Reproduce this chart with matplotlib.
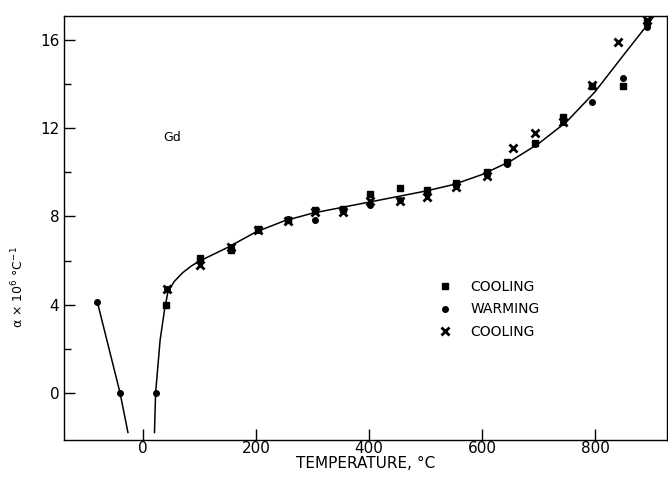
import numpy as np
import matplotlib.pyplot as plt

# thermal expansion of Gd
# left (low temperature) branch
low_t = [-81, -41, -27]
low_a = [4.1, 0.0, -1.8]

# smooth curve drawn through the data
curve_t = [20, 22, 30, 38, 44, 55, 70, 85, 100, 150, 200, 250, 300, 350, 400, 450,
           500, 550, 600, 650, 700, 750, 800, 850, 890, 905]
curve_a = [-1.8, 0.0, 2.4, 3.8, 4.6, 5.05, 5.45, 5.75, 5.98, 6.6, 7.3, 7.8, 8.15, 8.4,
           8.65, 8.9, 9.15, 9.45, 9.9, 10.5, 11.3, 12.3, 13.65, 15.3, 16.6, 17.1]

cool1_t = [41, 101, 156, 204, 257, 304, 354, 402, 455, 503, 554, 609, 644, 694, 743, 795, 850, 892]
cool1_a = [4.0, 6.1, 6.5, 7.45, 7.85, 8.3, 8.35, 9.0, 9.3, 9.2, 9.5, 10.0, 10.45, 11.35, 12.5, 13.9, 13.9, 16.8]

warm_t = [22, -41, -81, 42, 101, 156, 204, 257, 304, 354, 402, 455, 503, 554, 609, 644, 694, 743, 795, 850, 892]
warm_a = [0.0, 0.0, 4.1, 4.7, 6.0, 6.6, 7.4, 7.9, 7.85, 8.25, 8.5, 8.75, 9.05, 9.4, 9.9, 10.4, 11.3, 12.3, 13.2, 14.3, 16.6]

cool2_t = [42, 101, 156, 204, 257, 304, 354, 402, 455, 503, 554, 609, 655, 694, 743, 795, 841, 892]
cool2_a = [4.7, 5.8, 6.6, 7.4, 7.8, 8.2, 8.2, 8.7, 8.7, 8.9, 9.35, 9.85, 11.1, 11.8, 12.3, 13.95, 15.9, 16.9]

x_ticks = [0, 200, 400, 600, 800]
y_ticks = [0, 4, 8, 12, 16]

fig = plt.figure(figsize=(6.68, 4.87), dpi=100)
ax = fig.add_axes([0.096, 0.0965, 0.902, 0.871])

ax.plot(low_t, low_a, color='black', lw=1.1)
ax.plot(curve_t, curve_a, color='black', lw=1.1)

ax.plot(cool1_t, cool1_a, 's', color='black', ms=5, label='COOLING')
ax.plot(warm_t, warm_a, 'o', color='black', ms=4, label='WARMING')
ax.plot(cool2_t, cool2_a, 'x', color='black', ms=6, mew=2, label='COOLING')

ax.text(35, 11.6, 'Gd', fontsize=9, ha='left', va='center')

ax.set_xlim(-140, 927)
ax.set_ylim(-2.14, 17.1)
ax.set_xticks(x_ticks)
ax.set_yticks(y_ticks)
ax.set_yticks([2, 6, 10, 14], minor=True)
ax.tick_params(direction='in', length=8, width=1, labelsize=11)
ax.tick_params(which='minor', direction='in', length=5, width=1)
ax.tick_params(axis='x', pad=1)

ax.set_xlabel('TEMPERATURE, °C', fontsize=11, labelpad=0)
ax.set_ylabel('α × 10$^6$ °C$^{-1}$', fontsize=9)
ax.yaxis.set_label_coords(-0.062, 0.36)

for s in ax.spines.values():
    s.set_linewidth(1)

ax.legend(loc='upper left', bbox_to_anchor=(0.6, 0.39), frameon=False,
          fontsize=10, handletextpad=0.8, labelspacing=0.6, borderaxespad=0)

fig.savefig('out.png', dpi=100)
